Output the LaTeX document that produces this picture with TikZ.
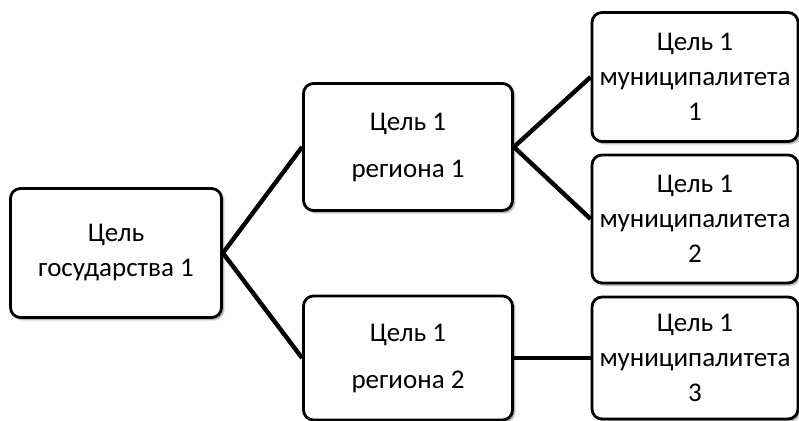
\documentclass[tikz,border=0pt]{standalone}
\usepackage{fontspec}
\setmainfont{Carlito}
\usetikzlibrary{positioning,shadows.blur}

\begin{document}
\begin{tikzpicture}[x=1pt, y=-1pt,
  goalbox/.style={draw=black, line width=2.8pt, rounded corners=10pt, fill=white,
    minimum width=209pt, inner sep=0pt, align=center,
    font=\fontsize{27}{35}\selectfont,
    blur shadow={shadow xshift=2pt, shadow yshift=-2pt, shadow blur steps=6, shadow opacity=45}},
  link/.style={line width=4.4pt, black}]
  % canvas in pixel units, 799 x 420
  \useasboundingbox (0,0) rectangle (799,420);

  % level 1: state
  \node[goalbox, minimum width=211pt, minimum height=129pt] (state) at (116,253)
    {Цель\\государства 1};

  % level 2: regions
  \node[goalbox, minimum height=127pt] (reg1) at (408,147)
    {Цель 1\\[12pt]региона 1};
  \node[goalbox, minimum height=124pt] (reg2) at (408,358)
    {Цель 1\\[12pt]региона 2};

  % level 3: municipalities
  \node[goalbox, minimum width=206pt, minimum height=129pt] (mun1) at (695,77)
    {Цель 1\\муниципалитета\\1};
  \node[goalbox, minimum width=206pt, minimum height=128pt] (mun2) at (695,219)
    {Цель 1\\муниципалитета\\2};
  \node[goalbox, minimum width=206pt, minimum height=122pt] (mun3) at (695,358)
    {Цель 1\\муниципалитета\\3};

  % connectors
  \draw[link] (state.east) -- (reg1.west);
  \draw[link] (state.east) -- (reg2.west);
  \draw[link] (reg1.east) -- (mun1.west);
  \draw[link] (reg1.east) -- (mun2.west);
  \draw[link] (reg2.east) -- (mun3.west);

\end{tikzpicture}
\end{document}
